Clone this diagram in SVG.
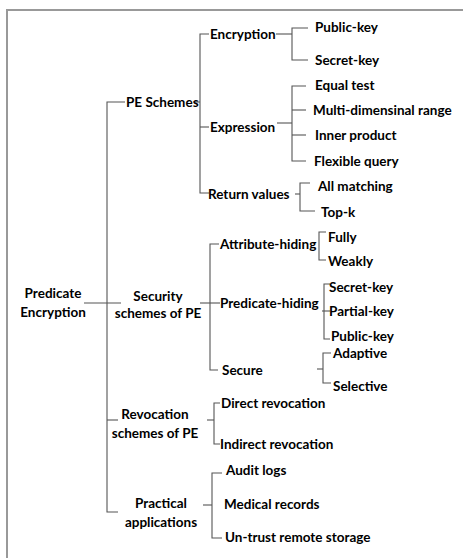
<svg xmlns="http://www.w3.org/2000/svg" width="463" height="558" viewBox="0 0 463 558">
<style>
text{font-family:Lato,"Liberation Sans",sans-serif;font-weight:bold;font-size:13.5px;fill:#000}
.m{text-anchor:middle}
.c line,.c path{stroke:#555;stroke-width:1.1;fill:none}
.frame{stroke:#999;stroke-width:2;fill:none}
</style>
<rect width="463" height="558" fill="#fff"/>
<path class="frame" d="M7,559 V10 H464"/>
<g class="c" id="connectors">
<path d="M84,303 H121"/>
<path d="M125,102 H107 V512 H118"/>
<path d="M107,420 H118"/>
<path d="M195,102 H200"/>
<path d="M209,34 H200 V193 H209"/>
<path d="M200,127 H209"/>
<path d="M276,34 H292"/>
<path d="M308,28 H292 V60 H308"/>
<path d="M277,123 H292"/>
<path d="M306,86 H292 V161 H306"/>
<path d="M292,110 H306"/>
<path d="M292,135 H306"/>
<path d="M295,194 H300"/>
<path d="M310,183 H300 V211 H315"/>
<path d="M200,303 H220"/>
<path d="M219,244 H210 V370 H218"/>
<path d="M326,232 H319 V260 H326"/>
<path d="M330,284 H324 V339 H330"/>
<path d="M322,311 H330"/>
<path d="M317,369 H323"/>
<path d="M331,353 H323 V383 H331"/>
<path d="M207,420 H214"/>
<path d="M220,403 H214 V444 H220"/>
<path d="M203,505 H212"/>
<path d="M222,473 H212 V538 H222"/>
</g>
<g id="root"><text class="m" x="53" y="297.5">Predicate</text><text class="m" x="53" y="316.5">Encryption</text></g>
<g id="pe-schemes"><text x="126" y="106.5">PE Schemes</text></g>
<g id="encryption"><text x="210" y="38.5">Encryption</text></g>
<g id="public-key"><text x="315" y="31.5">Public-key</text></g>
<g id="secret-key"><text x="315" y="64.5">Secret-key</text></g>
<g id="expression"><text x="210" y="131.5">Expression</text></g>
<g id="equal-test"><text x="315" y="89.5">Equal test</text></g>
<g id="multi-range"><text x="313" y="114.5">Multi-dimensinal range</text></g>
<g id="inner-product"><text x="315" y="139.5">Inner product</text></g>
<g id="flexible-query"><text x="314" y="165.5">Flexible query</text></g>
<g id="return-values"><text x="208" y="198.5">Return values</text></g>
<g id="all-matching"><text x="318" y="190.5">All matching</text></g>
<g id="top-k"><text x="321" y="216.5">Top-k</text></g>
<g id="security"><text class="m" x="158" y="300.5">Security</text><text class="m" x="158" y="317.5">schemes of PE</text></g>
<g id="attribute-hiding"><text x="220" y="248.5">Attribute-hiding</text></g>
<g id="fully"><text x="328" y="241.5">Fully</text></g>
<g id="weakly"><text x="328" y="265.5">Weakly</text></g>
<g id="predicate-hiding"><text x="220" y="307.5">Predicate-hiding</text></g>
<g id="ph-secret-key"><text x="329" y="291.5">Secret-key</text></g>
<g id="partial-key"><text x="329" y="315.5">Partial-key</text></g>
<g id="ph-public-key"><text x="331" y="340.5">Public-key</text></g>
<g id="secure"><text x="222" y="374.5">Secure</text></g>
<g id="adaptive"><text x="333" y="357.5">Adaptive</text></g>
<g id="selective"><text x="333" y="390.5">Selective</text></g>
<g id="revocation"><text class="m" x="155" y="418.5">Revocation</text><text class="m" x="155" y="437.5">schemes of PE</text></g>
<g id="direct-revocation"><text x="221" y="407.5">Direct revocation</text></g>
<g id="indirect-revocation"><text x="220" y="448.5">Indirect revocation</text></g>
<g id="practical"><text class="m" x="161" y="507.5">Practical</text><text class="m" x="161" y="526.5">applications</text></g>
<g id="audit-logs"><text x="226" y="474.5">Audit logs</text></g>
<g id="medical-records"><text x="224" y="508.5">Medical records</text></g>
<g id="untrust-storage"><text x="225" y="541.5">Un-trust remote storage</text></g>
</svg>
